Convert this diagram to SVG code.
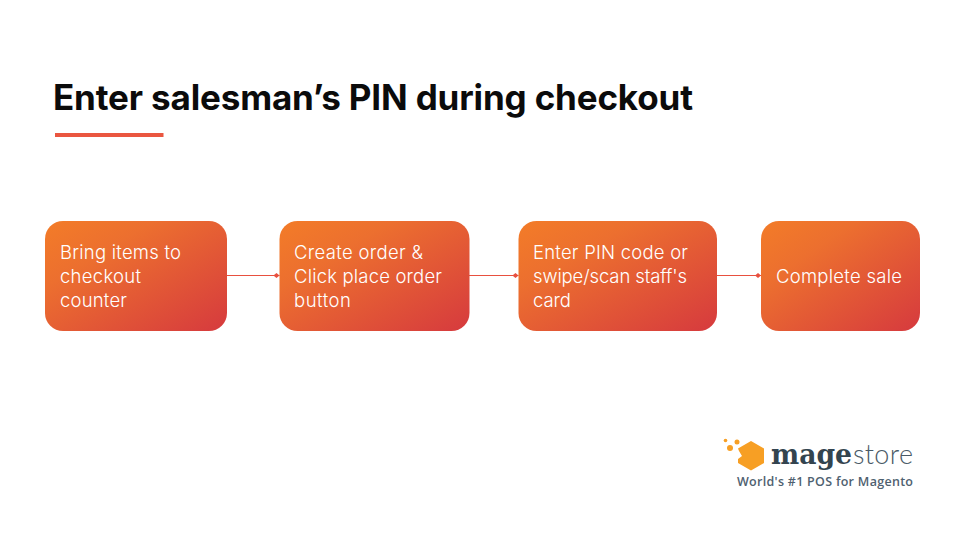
<svg xmlns="http://www.w3.org/2000/svg" width="960" height="540" viewBox="0 0 960 540">
<style>
.title{font:700 35px Inter,"Liberation Sans",sans-serif;fill:#0b0b0b}
.t{font:300 18.500px Inter,"Liberation Sans",sans-serif;fill:#fff}
.box{fill:url(#g)}
.c{stroke:#e8503f;stroke-width:1;fill:none;marker-end:url(#d)}
.dot{fill:#f79f24}
</style>
<defs>
<linearGradient id="g" x1="0" y1="0" x2="1" y2="1">
<stop offset="0" stop-color="#f37c28"/><stop offset=".3" stop-color="#ec6f2f"/><stop offset="1" stop-color="#d63a3e"/>
</linearGradient>
<marker id="d" markerUnits="userSpaceOnUse" markerWidth="6" markerHeight="6" refX="6" refY="3" orient="auto"><path d="M0 3L3 0.500L6 3L3 5.500Z" fill="#e8503f"/></marker>
</defs>
<rect width="960" height="540" fill="#fff"/>
<text class="title" x="53" y="110" textLength="640">Enter salesman’s PIN during checkout</text>
<rect x="55" y="133" width="108.500" height="4" fill="#ea5640"/>
<g id="connectors">
<path class="c" d="M227 275.500H279.500"/>
<path class="c" d="M469 275.500H518.500"/>
<path class="c" d="M717 275.500H761"/>
</g>
<g id="n1"><rect class="box" x="45" y="221" width="182" height="110" rx="18"/>
<text class="t" x="60" y="259" textLength="121">Bring items to</text><text class="t" x="60" y="283" textLength="81">checkout</text><text class="t" x="60" y="307" textLength="67">counter</text></g>
<g id="n2"><rect class="box" x="279.500" y="221" width="190" height="110" rx="18"/>
<text class="t" x="294" y="259" textLength="129">Create order &amp;</text><text class="t" x="294" y="283" textLength="148">Click place order</text><text class="t" x="294" y="307" textLength="57">button</text></g>
<g id="n3"><rect class="box" x="518.500" y="221" width="198.500" height="110" rx="18"/>
<text class="t" x="533" y="259" textLength="155">Enter PIN code or</text><text class="t" x="533" y="283" textLength="154">swipe/scan staff's</text><text class="t" x="533" y="307" textLength="38">card</text></g>
<g id="n4"><rect class="box" x="761" y="221" width="159" height="110" rx="18"/>
<text class="t" x="776" y="283" textLength="126">Complete sale</text></g>
<g id="logo">
<path class="dot" d="M751 441L764 448.500V463L751 470.500L738 463V459L742 456L739 451L738 448.500Z"/>
<circle class="dot" cx="730" cy="448" r="3"/><circle class="dot" cx="725.500" cy="440.500" r="1.800"/><circle class="dot" cx="737" cy="442" r="2.500"/>
<text x="771" y="463.500" font-family="'DejaVu Serif',serif" font-weight="700" font-size="28" fill="#33444f" textLength="81" lengthAdjust="spacingAndGlyphs">mage</text>
<text x="853" y="463.500" font-family="Lato,sans-serif" font-weight="300" font-size="27" fill="#4a5a66" textLength="60">store</text>
<text x="737" y="486" font-family="'Open Sans',sans-serif" font-weight="600" font-size="12.500" fill="#4f6170" textLength="176">World's #1 POS for Magento</text>
</g>
</svg>
